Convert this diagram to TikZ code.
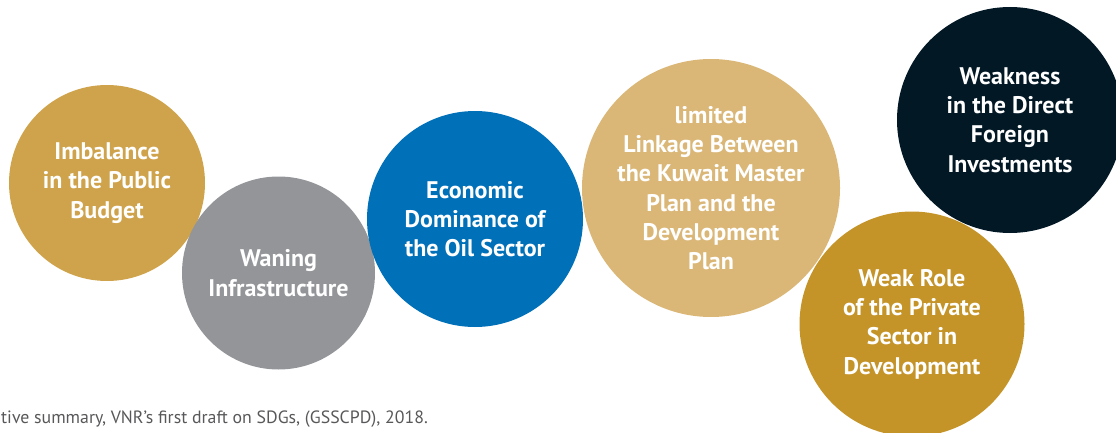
\documentclass[tikz,border=0pt]{standalone}
\usepackage{fontspec}
\setmainfont{PT Sans}
\usepackage{tikz}
\usetikzlibrary{positioning}
\definecolor{mygold}{RGB}{207,163,75}
\definecolor{mygray}{RGB}{147,149,153}
\definecolor{myblue}{RGB}{0,112,185}
\definecolor{mysand}{RGB}{218,183,119}
\definecolor{mynavy}{RGB}{3,24,37}
\definecolor{mybrass}{RGB}{196,148,41}
\definecolor{mycaption}{RGB}{88,88,90}
\tikzset{
  issue/.style={circle, inner sep=0pt, text=white, align=center,
    font=\fontsize{24}{29.3}\selectfont\bfseries},
  caption/.style={anchor=base west, inner sep=0pt, text=mycaption,
    font=\fontsize{17.8}{20}\selectfont}
}
\begin{document}
\begin{tikzpicture}[x=1pt, y=-1pt]
  \useasboundingbox (0,0) rectangle (1116,433);

  % Circles
  \node[issue, fill=mygold, minimum size=196pt] (budget) at (107,183)
    {Imbalance\\in the Public\\Budget};
  \node[issue, fill=mygray, minimum size=193pt] (infra) at (278.5,273)
    {Waning\\Infrastructure};
  \node[issue, fill=myblue, minimum size=216pt] (oil) at (475,219)
    {Economic\\Dominance of\\the Oil Sector};
  \node[issue, fill=mysand, minimum size=258pt] (linkage) at (711,188)
    {limited\\Linkage Between\\the Kuwait Master\\Plan and the\\Development\\Plan};
  \node[issue, fill=mynavy, minimum size=226pt] (fdi) at (1010,120)
    {Weakness\\in the Direct\\Foreign\\Investments};
  \node[issue, fill=mybrass, minimum size=225pt] (private) at (912,324)
    {Weak Role\\of the Private\\Sector in\\Development};

  % Source line
  \node[caption] (source) at (1,423)
    {tive summary, VNR’s first draft on SDGs, (GSSCPD), 2018.};
\end{tikzpicture}
\end{document}
